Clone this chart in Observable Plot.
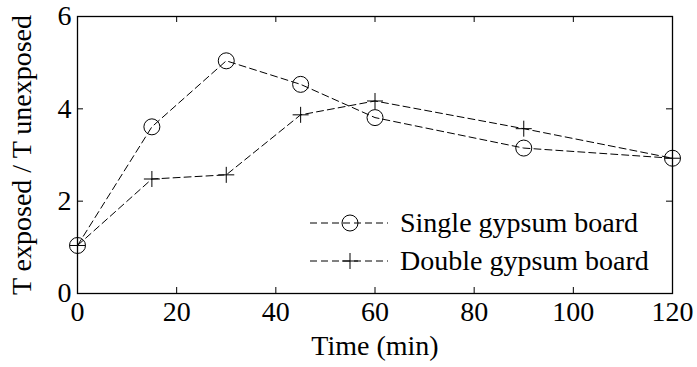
<!DOCTYPE html>
<html>
<head>
<meta charset="utf-8">
<script src="https://cdn.jsdelivr.net/npm/d3@7"></script>
<script src="https://cdn.jsdelivr.net/npm/@observablehq/plot@0.6"></script>
<style>
  body { margin: 0; background: #fff; }
  #chart svg { display: block; }
</style>
</head>
<body>
<div id="chart"></div>
<script>
// Temperature ratio (exposed / unexposed side) over fire exposure time
const times = [0, 15, 30, 45, 60, 90, 120];
const singleBoard = [1.04, 3.61, 5.04, 4.53, 3.81, 3.15, 2.93];
const doubleBoard = [1.04, 2.48, 2.57, 3.87, 4.17, 3.57, 2.93];
const seriesNames = ["Single gypsum board", "Double gypsum board"];
const xTicks = [0, 20, 40, 60, 80, 100, 120];
const yTicks = [0, 2, 4, 6];

const singleRows = times.map((t, i) => ({time: t, ratio: singleBoard[i], series: seriesNames[0]}));
const doubleRows = times.map((t, i) => ({time: t, ratio: doubleBoard[i], series: seriesNames[1]}));

// Open marker shapes (stroke only), sized so that size = πr²
const circleSymbol = {
  draw(ctx, size) {
    const r = Math.sqrt(size / Math.PI);
    ctx.moveTo(r, 0);
    ctx.arc(0, 0, r, 0, 2 * Math.PI);
  }
};
const plusSymbol = {
  draw(ctx, size) {
    const r = Math.sqrt(size / Math.PI);
    ctx.moveTo(-r, 0); ctx.lineTo(r, 0);
    ctx.moveTo(0, -r); ctx.lineTo(0, r);
  }
};

const W = 697, H = 367;
const M = {top: 16, right: 25, bottom: 74, left: 77};
const innerW = W - M.left - M.right;
const innerH = H - M.top - M.bottom;
const dash = "7,4";
const markerR = 8;

// Legend drawn inside the plot frame, lower right
function legendMark(index, scales, values, dims) {
  const g = d3.create("svg:g").attr("text-anchor", "start");
  const entries = [
    {name: seriesNames[0], symbol: circleSymbol, y: 223},
    {name: seriesNames[1], symbol: plusSymbol, y: 261}
  ];
  const x0 = 310, x1 = 388, xm = 350, xt = 400;
  for (const e of entries) {
    g.append("line")
      .attr("x1", x0).attr("x2", x1).attr("y1", e.y).attr("y2", e.y)
      .attr("stroke", "black").attr("stroke-width", 1)
      .attr("stroke-dasharray", dash);
    g.append("path")
      .attr("transform", `translate(${xm},${e.y})`)
      .attr("d", d3.symbol(e.symbol, Math.PI * markerR * markerR)())
      .attr("fill", "none").attr("stroke", "black").attr("stroke-width", 1);
    g.append("text")
      .attr("x", xt).attr("y", e.y).attr("dy", "0.32em")
      .attr("text-anchor", "start")
      .attr("fill", "black")
      .text(e.name);
  }
  return g.node();
}

const chart = Plot.plot({
  width: W,
  height: H,
  marginTop: M.top,
  marginRight: M.right,
  marginBottom: M.bottom,
  marginLeft: M.left,
  style: {fontFamily: "'Liberation Serif', 'Times New Roman', serif", fontSize: "28px", background: "#fff", color: "black"},
  x: {domain: [0, 120]},
  y: {domain: [0, 6]},
  marks: [
    // axis tick labels
    Plot.axisX(xTicks, {tickSize: 0, tickPadding: 8, label: null, tickFormat: d => String(d)}),
    Plot.axisY(yTicks, {tickSize: 0, tickPadding: 6, label: null, tickFormat: d => String(d)}),
    // inward ticks on all four sides
    Plot.tickX(xTicks, {x: d => d, insetTop: innerH - 6, stroke: "black"}),
    Plot.tickX(xTicks, {x: d => d, insetBottom: innerH - 6, stroke: "black"}),
    Plot.tickY(yTicks, {y: d => d, insetRight: innerW - 6, stroke: "black"}),
    Plot.tickY(yTicks, {y: d => d, insetLeft: innerW - 6, stroke: "black"}),
    Plot.frame({stroke: "black", strokeWidth: 1.3}),
    // series
    Plot.line(singleRows, {x: "time", y: "ratio", stroke: "black", strokeWidth: 1, strokeDasharray: dash}),
    Plot.line(doubleRows, {x: "time", y: "ratio", stroke: "black", strokeWidth: 1, strokeDasharray: dash}),
    Plot.dot(singleRows, {x: "time", y: "ratio", r: markerR, symbol: circleSymbol, stroke: "black", fill: "none", strokeWidth: 1}),
    Plot.dot(doubleRows, {x: "time", y: "ratio", r: markerR, symbol: plusSymbol, stroke: "black", strokeWidth: 1}),
    // axis titles
    Plot.text(["Time (min)"], {frameAnchor: "bottom", dy: 53, lineAnchor: "middle", textAnchor: "middle", text: d => d, fill: "black"}),
    Plot.text(["T exposed / T unexposed"], {frameAnchor: "left", dx: -55, rotate: -90, lineAnchor: "middle", textAnchor: "middle", text: d => d, fill: "black"}),
    legendMark
  ]
});

document.getElementById("chart").appendChild(chart);
</script>
</body>
</html>
